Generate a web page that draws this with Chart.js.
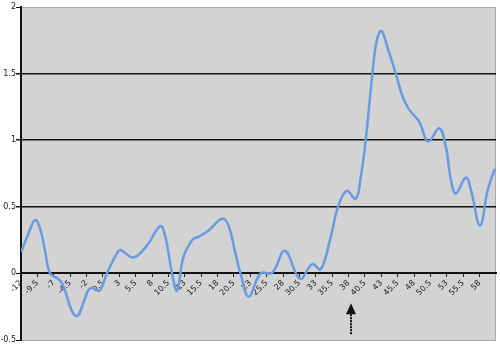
<!DOCTYPE html>
<html>
<head>
<meta charset="utf-8">
<script src="https://cdn.jsdelivr.net/npm/chart.js@4.4.1/dist/chart.umd.min.js"></script>
<style>
    html, body { margin: 0; padding: 0; background: #fff; }
    #wrap { width: 500px; height: 354px; }
</style>
</head>
<body>
<div id="wrap"><canvas id="lineChart" width="500" height="354"></canvas></div>
<script>
// x positions and values
const xValues = [
    -12, -10.93, -9.86, -9.1, -8.33, -7.56, -6.34, -5.73, -3.59, -1.71, -1.19,
    -0.02, 1.11, 2.64, 3.14, 5.18, 7.23, 9.26, 10.03, 11.05, 11.81,
    12.78, 14.11, 14.87, 16.6, 18.7, 19.66, 20.73, 21.5, 22.77, 24.56,
    26.35, 28.27, 30.57, 32.46, 33.73, 35.26, 36.38, 37.71, 39.09, 39.85,
    40.61, 41.64, 42.3, 43.02, 43.98, 45.2, 46.23, 47.24, 48.77, 50.14,
    51.83, 52.85, 53.62, 54.38, 55.91, 56.68, 58.05, 59.23, 60.24, 60.5
];
const yValues = [
    0.16, 0.29, 0.4, 0.34, 0.17, 0, -0.04, -0.075, -0.32, -0.125, -0.11,
    -0.13, 0, 0.15, 0.175, 0.12, 0.21, 0.355, 0.275, 0, -0.13,
    0.12, 0.25, 0.27, 0.32, 0.41, 0.36, 0.15, 0, -0.175, 0,
    0.005, 0.17, -0.04, 0.07, 0.03, 0.27, 0.5, 0.62, 0.56, 0.72,
    1.0, 1.5, 1.75, 1.82, 1.69, 1.5, 1.33, 1.23, 1.14, 0.99,
    1.09, 0.95, 0.7, 0.6, 0.72, 0.625, 0.36, 0.625, 0.775, 0.78
];
const xTickLabels = [
    -12, -9.5, -7, -4.5, -2, 0.5, 3, 5.5, 8, 10.5, 13, 15.5, 18, 20.5, 23,
    25.5, 28, 30.5, 33, 35.5, 38, 40.5, 43, 45.5, 48, 50.5, 53, 55.5, 58
];
const yTickLabels = [-0.5, 0, 0.5, 1, 1.5, 2];

// marker arrow below the axis
const arrowX = 38.3;
const arrowTop = -0.225;
const arrowBottom = -0.465;

Chart.defaults.font.family = "'DejaVu Sans', Verdana, sans-serif";
Chart.defaults.font.size = 8;
Chart.defaults.color = '#222';

const plotBackground = {
    id: 'plotBackground',
    beforeDraw(chart) {
        const { ctx, chartArea: a } = chart;
        ctx.save();
        ctx.fillStyle = '#d3d3d3';
        ctx.fillRect(a.left, a.top, a.right - a.left, a.bottom - a.top);
        ctx.strokeStyle = '#a8a8a8';
        ctx.lineWidth = 1;
        ctx.beginPath();
        ctx.moveTo(a.right - 0.5, a.top);
        ctx.lineTo(a.right - 0.5, a.bottom);
        ctx.stroke();
        ctx.restore();
    }
};

const arrowMarker = {
    id: 'arrowMarker',
    afterDraw(chart) {
        const { ctx } = chart;
        const x = Math.round(chart.scales.x.getPixelForValue(arrowX));
        const top = chart.scales.y.getPixelForValue(arrowTop);
        const bottom = chart.scales.y.getPixelForValue(arrowBottom);
        const headLen = 11;
        ctx.save();
        ctx.strokeStyle = '#111';
        ctx.lineWidth = 2;
        ctx.setLineDash([2, 1]);
        ctx.beginPath();
        ctx.moveTo(x, top + headLen);
        ctx.lineTo(x, bottom);
        ctx.stroke();
        ctx.setLineDash([]);
        ctx.fillStyle = '#111';
        ctx.beginPath();
        ctx.moveTo(x, top);
        ctx.lineTo(x - 5, top + headLen);
        ctx.lineTo(x + 5, top + headLen);
        ctx.closePath();
        ctx.fill();
        ctx.restore();
    }
};

new Chart(document.getElementById('lineChart'), {
    type: 'line',
    data: {
        datasets: [{
            data: xValues.map((x, i) => ({ x: x, y: yValues[i] })),
            borderColor: '#6a9ae0',
            borderWidth: 2.5,
            pointRadius: 0,
            tension: 0.4,
            fill: false
        }]
    },
    options: {
        responsive: false,
        animation: false,
        layout: { padding: { top: 7, right: 4, bottom: 14, left: 0 } },
        plugins: {
            legend: { display: false },
            tooltip: { enabled: false }
        },
        scales: {
            x: {
                type: 'linear',
                position: { y: 0 },
                min: -12,
                max: 60.5,
                afterBuildTicks(axis) {
                    axis.ticks = xTickLabels.map(v => ({ value: v }));
                },
                afterFit(axis) {
                    axis.height = 0;
                },
                ticks: {
                    autoSkip: false,
                    minRotation: 45,
                    maxRotation: 45,
                    padding: 2,
                    callback: v => v
                },
                grid: {
                    drawOnChartArea: false,
                    drawTicks: true,
                    tickLength: 3,
                    tickColor: '#222'
                },
                border: { color: '#111', width: 2 }
            },
            y: {
                min: -0.5,
                max: 2,
                afterBuildTicks(axis) {
                    axis.ticks = yTickLabels.map(v => ({ value: v }));
                },
                afterFit(axis) {
                    axis.width = 21;
                },
                ticks: { padding: 0, callback: v => v },
                grid: {
                    color: c => (c.tick && c.tick.value > 0 && c.tick.value < 2) ? '#111' : '#a8a8a8',
                    lineWidth: c => (c.tick && c.tick.value > 0 && c.tick.value < 2) ? 1.5 : 1,
                    tickColor: '#111',
                    tickLength: 5
                },
                border: { color: '#111', width: 2 }
            }
        }
    },
    plugins: [plotBackground, arrowMarker]
});
</script>
</body>
</html>
